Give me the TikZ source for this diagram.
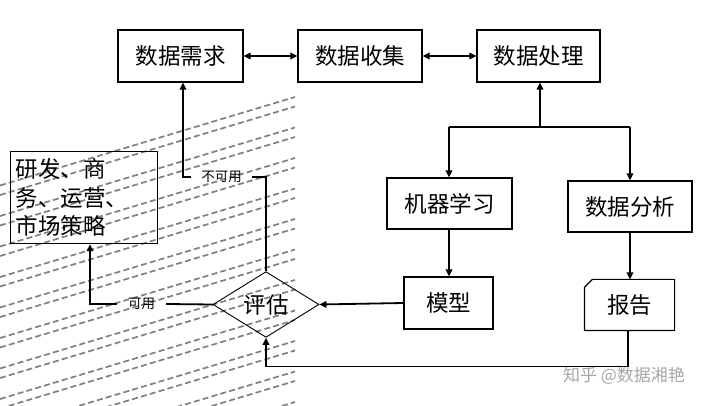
\documentclass[tikz,border=0pt]{standalone}
\usepackage{fontspec}
\newfontfamily\cjk{Noto Sans CJK SC}
\usetikzlibrary{arrows.meta,shapes.geometric,calc}
\begin{document}
\begin{tikzpicture}[x=1pt,y=-1pt,
  box/.style={draw,line width=1.2pt,inner sep=0pt,font=\cjk\fontsize{22.5}{22.5}\selectfont},
  conn/.style={line width=1.8pt},
  arr/.style={conn,-{Triangle[length=7pt,width=6.5pt]}},
  darr/.style={conn,{Triangle[length=7pt,width=6.5pt]}-{Triangle[length=7pt,width=6.5pt]}},
  lbl/.style={inner ysep=0pt,font=\cjk\fontsize{13.5}{13.5}\selectfont},
  hatch/.style={line width=1.7pt,color=black!50,dash pattern=on 6pt off 3.2pt}]
\useasboundingbox (0,0) rectangle (713,406);
% hatch background
\begin{scope}
  \clip (0,0) rectangle (295,406);
  \foreach \k in {0,...,10}{
    \pgfmathsetmacro{\ya}{97+30.5*\k}
    \pgfmathsetmacro{\yb}{\ya+9.5}
    \draw[hatch] (0,\ya+88.5) -- (295,\ya);
    \draw[hatch] (0,\yb+88.5) -- (295,\yb);
  }
\end{scope}
% nodes
\node[box,minimum width=125pt,minimum height=52pt] (xq) at (180.5,56) {数据需求};
\node[box,minimum width=124pt,minimum height=52pt] (sj) at (360,56) {数据收集};
\node[box,minimum width=123pt,minimum height=52pt] (cl) at (538.5,56) {数据处理};
\node[box,minimum width=125pt,minimum height=51pt] (jq) at (449.5,203.5) {机器学习};
\node[box,minimum width=124pt,minimum height=51pt] (fx) at (630,206.5) {数据分析};
\node[box,minimum width=89pt,minimum height=52pt] (mx) at (448.5,303) {模型};
\node[box,draw=none,minimum width=89pt,minimum height=50pt] (bg) at (629.5,305) {报告};
\draw[line width=1.2pt] ($(bg.north west)+(8,0)$) -- (bg.north east) -- (bg.south east) -- (bg.south west) -- ($(bg.north west)+(0,8)$) -- cycle;
\node[box,diamond,line width=0.9pt,minimum width=106pt,minimum height=65pt] (pg) at (266,304.5) {评估};
\node[box,anchor=north west,minimum width=147pt,minimum height=92pt,align=left,text width=137pt,inner xsep=5pt,
  font=\cjk\fontsize{22.5}{28.5}\selectfont] (yf) at (10,151) {研发、商\\务、运营、\\市场策略};
\node[lbl,inner xsep=10pt] (lb1) at (221.5,177) {不可用};
\node[lbl,inner xsep=11pt] (lb2) at (141.5,304) {可用};
\coordinate (j) at (540,127);
\coordinate (jl) at (449,127);
\coordinate (jr) at (630,127);
\coordinate (c1) at (183,177);
\coordinate (c2) at (90,304);
% connectors
\draw[darr] (xq.east) -- (sj.west);
\draw[darr] (sj.east) -- (cl.west);
\draw[arr] (j) -- (j |- cl.south);
\draw[conn] (jl) -- (jr);
\draw[arr] (jl) -- (jl |- jq.north);
\draw[arr] (jr) -- (jr |- fx.north);
\draw[arr] (jq.south -| jl) -- (jl |- mx.north);
\draw[arr] (fx.south) -- (fx.south |- bg.north);
\draw[arr] ($(bg.south)+(-1.5,0)$) -- ++(0,36) -| (pg.south);
\draw[arr] (mx.west) -- (pg.east);
\draw[conn] (pg.north) |- (lb1.east);
\draw[arr] (lb1.west) -- (c1) -- (c1 |- xq.south);
\draw[conn] (pg.west) -- (lb2.east);
\draw[arr] (lb2.west) -- (c2) -- (c2 |- yf.south);
% watermark
\node[font=\cjk\fontsize{17}{17}\selectfont,text=black!35] (wm) at (624,376) {知乎 @数据湘艳};
\end{tikzpicture}
\end{document}
